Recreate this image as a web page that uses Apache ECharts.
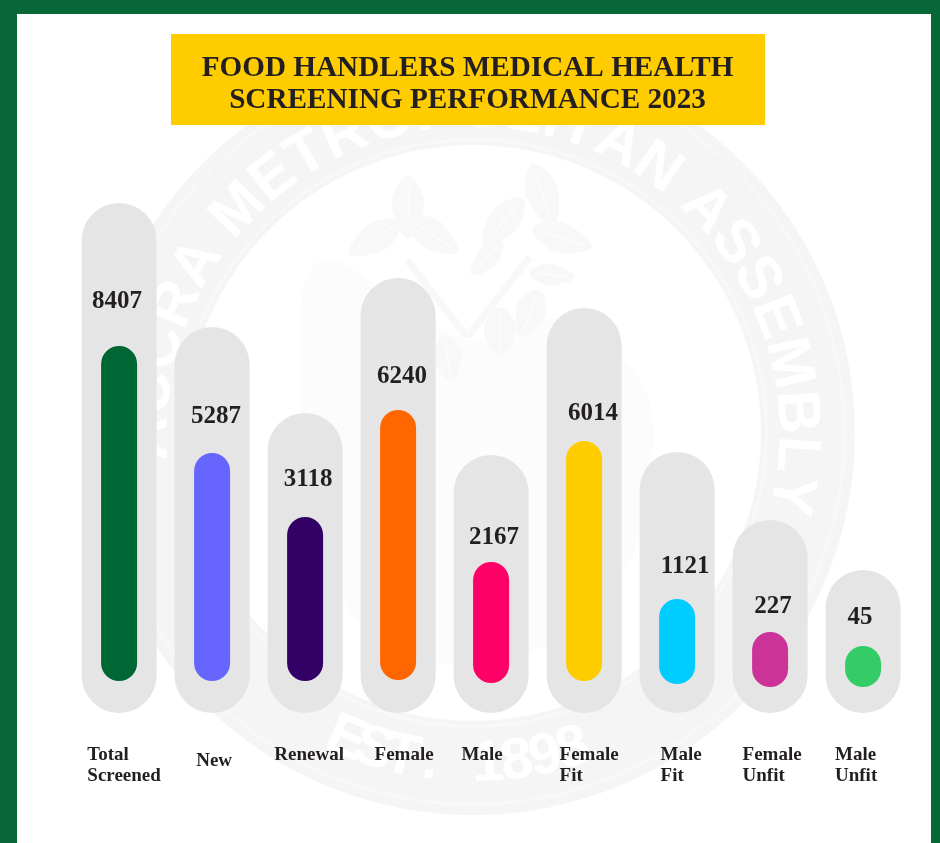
<!DOCTYPE html>
<html>
<head>
<meta charset="utf-8">
<title>Food Handlers Medical Health Screening Performance 2023</title>
<script src="https://cdn.jsdelivr.net/npm/echarts@6/dist/echarts.min.js"></script>
<style>
  html, body { margin: 0; padding: 0; background: #fff; }
  #chart { width: 940px; height: 843px; }
</style>
</head>
<body>
<div id="chart"></div>
<script>
var categories = ['Total\nScreened', 'New', 'Renewal', 'Female', 'Male', 'Female\nFit', 'Male\nFit', 'Female\nUnfit', 'Male\nUnfit'];
var figures = [8407, 5287, 3118, 6240, 2167, 6014, 1121, 227, 45];

// the pills in the picture are not to scale with the figures, so their lengths
// are read off the picture separately (pixels above the bottom of the grey pill)
var trackLevels = [510, 386, 300, 435, 258, 405, 261, 193, 143];
var fillFrom = [32, 32, 32, 33, 30, 32, 29, 26, 26];
var fillTo = [367, 260, 196, 303, 151, 272, 114, 81, 67];

var fillColors = ['#006633', '#6666FF', '#330066', '#FF6600', '#FF0066', '#FFCC00', '#00CCFF', '#CC3399', '#33CC66'];

// how far each figure sits above its pill and off its centre
var labelLift = [44, 36, 37, 33, 24, 27, 32, 25, 28];
var labelShift = [-2, 4, 3, 4, 3, 9, 8, 3, -3];
// same for the names under the pills
var nameShift = [5, 2, 4, 6, -9, 5, 4, 2, -7];

var textColor = '#231F20';
var serif = '"Liberation Serif", "Times New Roman", serif';

// faint seal behind the chart
var sealX = 473, sealY = 433;
var sealColor = '#F5F5F5';

// letters round the top of the seal, spaced by their real widths between two angles
function archLetters(text, radius, first, last, size) {
    var font = 'bold ' + size + 'px "Liberation Sans", sans-serif';
    var ctx = document.createElement('canvas').getContext('2d');
    ctx.font = font;
    var widths = text.split('').map(function (c) { return ctx.measureText(c).width; });
    var centres = [], run = 0;
    widths.forEach(function (w, i) {
        centres.push(run + w / 2);
        run += w;
    });
    var from = centres[0], span = centres[centres.length - 1] - from;
    return text.split('').map(function (c, i) {
        var a = (first + (last - first) * (centres[i] - from) / span) * Math.PI / 180;
        return {
            type: 'text',
            x: sealX + radius * Math.sin(a),
            y: sealY - radius * Math.cos(a),
            rotation: -a,
            style: { text: c, fill: '#fff', align: 'center', verticalAlign: 'middle', font: font }
        };
    });
}

function bottomLetters(text, radius, start, step, size) {
    var out = [];
    for (var i = 0; i < text.length; i++) {
        var a = (start + i * step) * Math.PI / 180;
        out.push({
            type: 'text',
            x: sealX + radius * Math.sin(a),
            y: sealY + radius * Math.cos(a),
            rotation: a,
            style: {
                text: text[i], fill: '#fff', align: 'center', verticalAlign: 'middle',
                font: 'bold ' + size + 'px "Liberation Sans", sans-serif'
            }
        });
    }
    return out;
}

function leaf(x, y, len, wid, deg) {
    return {
        type: 'group',
        x: x, y: y,
        rotation: -deg * Math.PI / 180,
        children: [
            {
                type: 'polygon',
                shape: {
                    points: [[0, -len / 2], [wid * 0.5, -len / 6], [wid * 0.42, len / 5], [0, len / 2], [-wid * 0.42, len / 5], [-wid * 0.5, -len / 6]],
                    smooth: 0.4
                },
                style: { fill: '#F8F8F8' }
            },
            { type: 'line', shape: { x1: 0, y1: -len * 0.35, x2: 0, y2: len * 0.35 }, style: { stroke: '#fff', lineWidth: 1 } }
        ]
    };
}

function branch(x1, y1, x2, y2) {
    return { type: 'line', shape: { x1: x1, y1: y1, x2: x2, y2: y2 }, style: { stroke: '#F8F8F8', lineWidth: 7 } };
}

var seal = [
    { type: 'circle', shape: { cx: sealX, cy: sealY, r: 382 }, style: { fill: sealColor } },
    { type: 'circle', shape: { cx: sealX, cy: sealY, r: 288 }, style: { fill: '#fff' } },
    { type: 'ring', shape: { cx: sealX, cy: sealY, r: 295, r0: 292 }, style: { fill: '#F8F8F8' } },
    { type: 'ring', shape: { cx: sealX, cy: sealY, r: 373, r0: 370 }, style: { fill: '#F8F8F8' } },
    {
        type: 'polygon',
        shape: { points: [[318, 262], [400, 300], [470, 340], [560, 320], [640, 380], [650, 480], [610, 590], [500, 660], [380, 640], [320, 540], [300, 380]], smooth: 0.4 },
        style: { fill: '#FCFCFC' }
    },
    branch(407, 260, 467, 337),
    branch(530, 257, 467, 337),
    leaf(408, 207, 62, 30, 0),
    leaf(375, 238, 60, 28, 58),
    leaf(433, 235, 60, 28, -55),
    leaf(543, 195, 66, 30, -18),
    leaf(503, 222, 62, 28, 40),
    leaf(562, 238, 62, 28, -72),
    leaf(487, 258, 46, 20, 42),
    leaf(552, 275, 46, 20, -85),
    leaf(500, 332, 50, 30, 0),
    leaf(530, 313, 50, 28, 22),
    leaf(448, 358, 46, 26, -8)
].concat(
    archLetters('ACCRA METROPOLITAN ASSEMBLY', 323, -91, 101, 60),
    bottomLetters('EST. 1898', 332, -22.4, 5, 58)
);

var frame = [
    { type: 'rect', shape: { x: 0, y: 0, width: 940, height: 14 }, style: { fill: '#076736' } },
    { type: 'rect', shape: { x: 0, y: 0, width: 17, height: 843 }, style: { fill: '#076736' } },
    { type: 'rect', shape: { x: 931, y: 0, width: 9, height: 843 }, style: { fill: '#076736' } },
    { type: 'rect', shape: { x: 171, y: 34, width: 594, height: 91 }, style: { fill: '#FFCC00' } }
];

// one rich style per name, the padding pushes the centred block sideways
var nameStyles = {};
nameShift.forEach(function (s, i) {
    nameStyles['n' + i] = {
        align: 'left',
        padding: [i === 1 ? 12 : 0, s < 0 ? -2 * s : 0, 0, s > 0 ? 2 * s : 0],
        fontFamily: serif, fontWeight: 'bold', fontSize: 19, lineHeight: 21, color: textColor
    };
});

var option = {
    backgroundColor: '#fff',
    animation: false,
    title: {
        text: 'FOOD HANDLERS MEDICAL HEALTH\nSCREENING PERFORMANCE 2023',
        left: 467.5,
        top: 52,
        textAlign: 'center',
        padding: 0,
        textStyle: { fontFamily: serif, fontWeight: 'bold', fontSize: 29.2, lineHeight: 32, color: textColor }
    },
    graphic: { elements: seal.concat(frame) },
    grid: { left: 72.6, width: 837, top: 113, bottom: 130 },
    xAxis: {
        type: 'category',
        data: categories,
        axisLine: { show: false },
        axisTick: { show: false },
        axisLabel: {
            interval: 0,
            margin: 32,
            align: 'center',
            verticalAlign: 'top',
            formatter: function (name, i) {
                return name.split('\n').map(function (s) { return '{n' + i + '|' + s + '}'; }).join('\n');
            },
            rich: nameStyles
        }
    },
    yAxis: { type: 'value', min: 0, max: 600, show: false },
    series: [
        {
            type: 'bar',
            data: trackLevels,
            barWidth: 75,
            silent: true,
            itemStyle: { color: '#E5E5E5', borderRadius: 37.5 },
            z: 2
        },
        {
            type: 'custom',
            silent: true,
            z: 3,
            encode: { x: 0, y: [1, 2] },
            data: categories.map(function (c, i) { return [i, fillFrom[i], fillTo[i], figures[i]]; }),
            renderItem: function (params, api) {
                var i = api.value(0);
                var low = api.coord([i, api.value(1)]);
                var high = api.coord([i, api.value(2)]);
                var w = 36;
                return {
                    type: 'group',
                    children: [
                        {
                            type: 'rect',
                            shape: { x: low[0] - w / 2, y: high[1], width: w, height: low[1] - high[1], r: w / 2 },
                            style: { fill: fillColors[i] }
                        },
                        {
                            type: 'text',
                            x: low[0] + labelShift[i],
                            y: high[1] - labelLift[i],
                            style: {
                                text: String(api.value(3)), fill: textColor, align: 'center', verticalAlign: 'middle',
                                font: 'bold 25px ' + serif
                            }
                        }
                    ]
                };
            }
        }
    ]
};

var chart = echarts.init(document.getElementById('chart'), null, { renderer: 'canvas' });
chart.setOption(option);
</script>
</body>
</html>
